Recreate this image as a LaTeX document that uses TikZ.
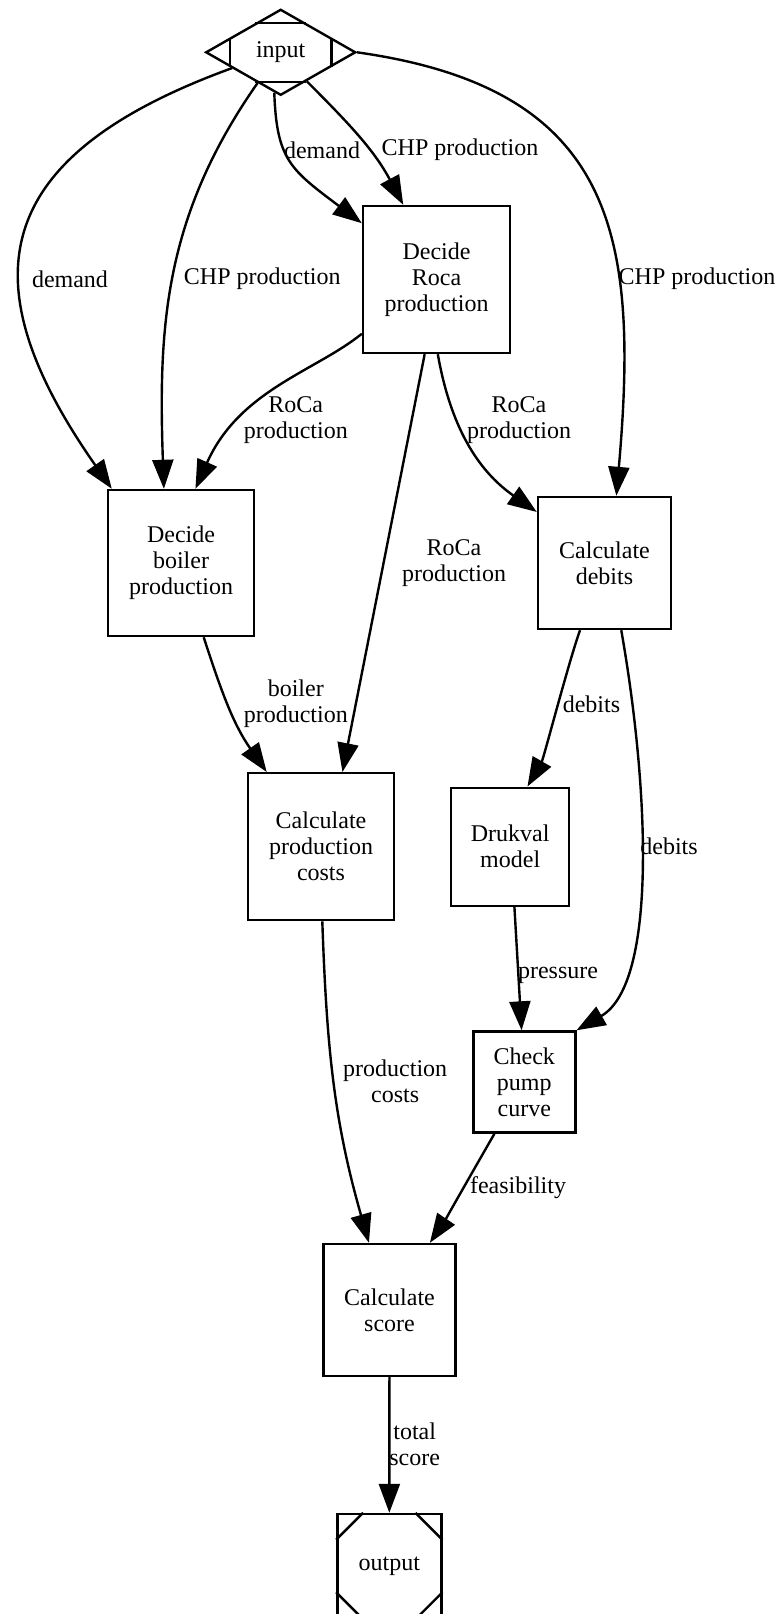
\documentclass[tikz,border=0pt]{standalone}
\usepackage{fontspec}
\setmainfont{Liberation Serif}
\usetikzlibrary{arrows.meta, shapes.geometric, calc}

\begin{document}
\begin{tikzpicture}[
						x=1pt, y=1pt, line width=2.4pt,
						>={Triangle[length=29pt, width=21pt]},
						txt/.style = {font=\fontsize{24}{26}\selectfont, align=center},
						box/.style = {draw, rectangle, txt},
						mdiam/.style = {draw, diamond, txt, inner sep=0pt, minimum width=150pt, minimum height=86pt},
						lbl/.style = {txt, inner sep=0pt}
					]
\useasboundingbox (0,0) rectangle (781,-1614);

\node[mdiam] (input) at (280.7,-52.3) {input};
\node[box] (roca) [minimum width=147pt, minimum height=147pt] at (436.5,-279.5) {Decide\\Roca\\production};
\node[box] (boiler) [minimum width=146pt, minimum height=146pt] at (181,-563) {Decide\\boiler\\production};
\node[box] (debits) [minimum width=133pt, minimum height=132pt] at (604.5,-563) {Calculate\\debits};
\node[box] (costs) [minimum width=146pt, minimum height=147pt] at (321,-846.7) {Calculate\\production\\costs};
\node[box] (drukval) [minimum width=118pt, minimum height=118pt] at (510.2,-846.7) {Drukval\\model};
\node[box] (pump) [minimum width=102pt, minimum height=101pt] at (524.3,-1082) {Check\\pump\\curve};
\node[box] (score) [minimum width=132pt, minimum height=132pt] at (389.5,-1310) {Calculate\\score};
\node[box] (output) [minimum width=104pt, minimum height=104pt] at (389.3,-1566) {output};

% corner marks
\draw ($(input.north)!1/3!(input.west)$) -- ($(input.north)!1/3!(input.east)$);
\draw ($(input.south)!1/3!(input.west)$) -- ($(input.south)!1/3!(input.east)$);
\draw ($(input.west)!1/3!(input.north)$) -- ($(input.west)!1/3!(input.south)$);
\draw ($(input.east)!1/3!(input.north)$) -- ($(input.east)!1/3!(input.south)$);
\draw ($(output.north west)+(27,0)$) -- ($(output.north west)+(0,-27)$);
\draw ($(output.north east)+(-27,0)$) -- ($(output.north east)+(0,-27)$);
\draw ($(output.south west)+(27,0)$) -- ($(output.south west)+(0,27)$);
\draw ($(output.south east)+(-27,0)$) -- ($(output.south east)+(0,27)$);

\draw[->] (input.198) to [out=200, in=125, looseness=1.5] (boiler.133);
\draw[->] (input.233) to [out=235, in=92] (boiler.103);
\draw[->] (input.261) to [out=272, in=143, out looseness=1.1, in looseness=1.45] (roca.143);
\draw[->] (input.312) to [out=315, in=118] (roca.114);
\draw[->] (input.east) to [out=-8, in=85, looseness=1.3] (debits.80);
\draw[->] (roca.216) to [out=219, in=66, out looseness=0.67, in looseness=1.22] (boiler.79);
\draw[->] (roca.261) -- (costs.74);
\draw[->] (roca.271) to [out=280, in=145] (debits.143);
\draw[->] (boiler.287) to [out=288, in=125] (costs.126);
\draw[->] (debits.250) to [out=250, in=60, looseness=0.5] (drukval.74);
\draw[->] (debits.284) to [out=280, in=30, out looseness=1, in looseness=0.6] (pump.north east);
\draw[->] (drukval.274) -- (pump.93);
\draw[->] (costs.271) to [out=272, in=106] (score.107);
\draw[->] (pump.240) to [out=240, in=56, looseness=0.5] (score.59);
\draw[->] (score) -- (output);

\node[lbl] (l1) at (70,-279) {demand};
\node[lbl] (l2) at (262.3,-279) {CHP production};
\node[lbl] (l3) at (322,-150) {demand};
\node[lbl] (l4) at (460,-150) {CHP production};
\node[lbl] (l5) at (697,-278.3) {CHP production};
\node[lbl] (l6) at (295.8,-420) {RoCa\\production};
\node[lbl] (l7) at (519,-420) {RoCa\\production};
\node[lbl] (l8) at (454,-563) {RoCa\\production};
\node[lbl] (l9) at (295.8,-704) {boiler\\production};
\node[lbl] (l10) at (591.5,-704) {debits};
\node[lbl] (l11) at (669,-846.7) {debits};
\node[lbl] (l12) at (558,-975) {pressure};
\node[lbl] (l13) at (395.2,-1081) {production\\costs};
\node[lbl] (l14) at (518,-1187.3) {feasibility};
\node[lbl] (l15) at (414.7,-1444) {total\\score};
\end{tikzpicture}
\end{document}
